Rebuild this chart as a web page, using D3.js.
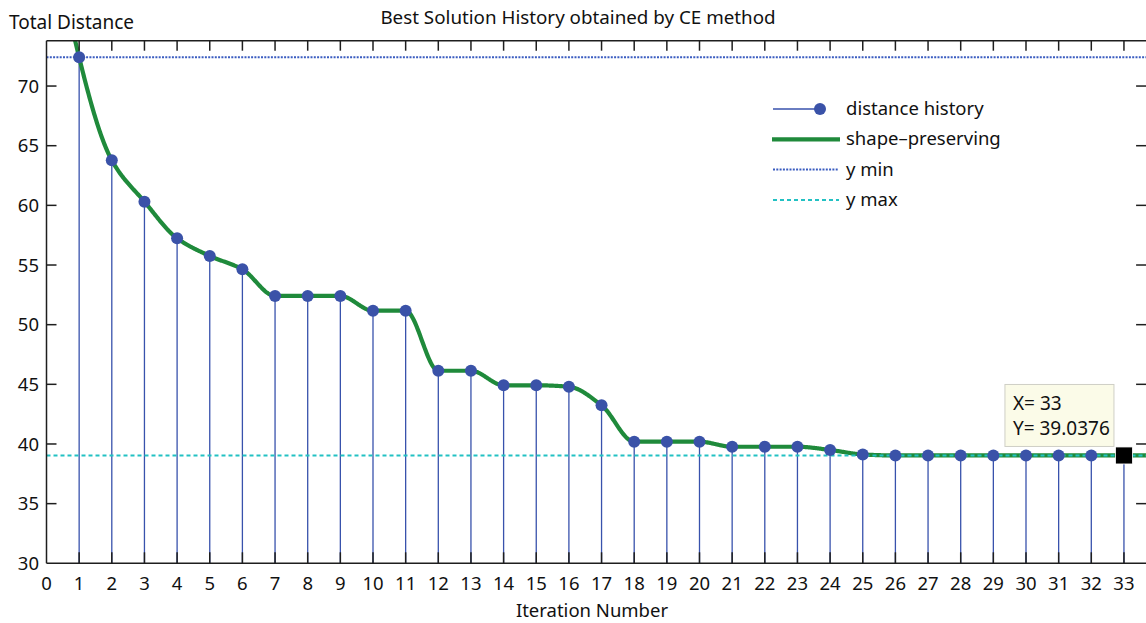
<!DOCTYPE html>
<html>
<head>
<meta charset="utf-8">
<script src="https://cdn.jsdelivr.net/npm/d3@7"></script>
<style>
  body { margin: 0; background: #fff; }
  svg { display: block; font-family: "Noto Sans", sans-serif; }
</style>
</head>
<body>
<svg id="chart" width="1146" height="623"></svg>
<script>
const iterations = d3.range(1, 34)
const distances = [72.41, 63.78, 60.31, 57.24, 55.76, 54.64, 52.41, 52.41, 52.41, 51.17,
  51.17, 46.14, 46.14, 44.92, 44.92, 44.80, 43.24, 40.19, 40.19, 40.19,
  39.77, 39.77, 39.77, 39.50, 39.12, 39.0376, 39.0376, 39.0376, 39.0376, 39.0376,
  39.0376, 39.0376, 39.0376]
const xTicks = d3.range(0, 34)
const yTicks = [30, 35, 40, 45, 50, 55, 60, 65, 70]
const legendLabels = ['distance history', 'shape\u2013preserving', 'y min', 'y max']

const svg = d3.select('#chart')
const xMaxDomain = 33.77
const x = d3.scaleLinear().domain([0, xMaxDomain]).range([46.5, 46.5 + xMaxDomain * 32.65])
const y = d3.scaleLinear().domain([30, 73.8]).range([563.3, 40.7])

const data = iterations.map((it, i) => ({x: it, y: distances[i]}))
const yMin = d3.max(distances)   // labelled "y min" in the legend, drawn at the top value
const yMax = d3.min(distances)

// pchip (shape-preserving) fit, as matlab basic fitting draws it
const pchip = (xs, ys) => {
  const n = xs.length
  const h = [], del = []
  for (let k = 0; k < n - 1; k++) {
    h.push(xs[k+1] - xs[k])
    del.push((ys[k+1] - ys[k]) / h[k])
  }
  const d = new Array(n).fill(0)
  for (let k = 1; k < n - 1; k++) {
    if (del[k-1] * del[k] > 0) {
      const w1 = 2*h[k] + h[k-1], w2 = h[k] + 2*h[k-1]
      d[k] = (w1 + w2) / (w1/del[k-1] + w2/del[k])
    }
  }
  const endSlope = (h0, h1, d0, d1) => {
    let s = ((2*h0 + h1)*d0 - h0*d1) / (h0 + h1)
    if (Math.sign(s) !== Math.sign(d0)) s = 0
    else if (Math.sign(d0) !== Math.sign(d1) && Math.abs(s) > Math.abs(3*d0)) s = 3*d0
    return s
  }
  d[0] = endSlope(h[0], h[1], del[0], del[1])
  d[n-1] = endSlope(h[n-2], h[n-3], del[n-2], del[n-3])
  return t => {
    let k = d3.bisectRight(xs, t) - 1
    k = Math.max(0, Math.min(n - 2, k))
    const s = t - xs[k], hk = h[k]
    const c = (3*del[k] - 2*d[k] - d[k+1]) / hk
    const b = (d[k] - 2*del[k] + d[k+1]) / (hk*hk)
    return ys[k] + s*(d[k] + s*(c + s*b))
  }
}
const fit = pchip(iterations, distances)
const fitPts = d3.range(0, xMaxDomain, 0.02).map(t => ({x: t, y: fit(t)}))

svg.append('defs').append('clipPath').attr('id', 'plotclip')
  .append('rect')
    .attr('x', x(0)).attr('y', y(73.8))
    .attr('width', x(xMaxDomain) - x(0)).attr('height', y(30) - y(73.8))

const plot = svg.append('g').attr('clip-path', 'url(#plotclip)')

// stems
plot.selectAll('.stem').data(data).enter().append('line')
  .attr('class', 'stem')
  .attr('x1', d => x(d.x)).attr('x2', d => x(d.x))
  .attr('y1', y(30)).attr('y2', d => y(d.y))
  .attr('stroke', '#3852ac').attr('stroke-width', 1.3)

// shape-preserving fit
plot.append('path')
  .datum(fitPts)
  .attr('fill', 'none')
  .attr('stroke', '#1f8a3b')
  .attr('stroke-width', 4.2)
  .attr('stroke-linejoin', 'round')
  .attr('d', d3.line().x(d => x(d.x)).y(d => y(d.y)))

// y min / y max lines
plot.append('line')
  .attr('x1', x(0)).attr('x2', x(xMaxDomain))
  .attr('y1', y(yMin)).attr('y2', y(yMin))
  .attr('stroke', '#3a5cc0').attr('stroke-width', 2)
  .attr('stroke-dasharray', '2,1.3')
plot.append('line')
  .attr('x1', x(0)).attr('x2', x(xMaxDomain))
  .attr('y1', y(yMax)).attr('y2', y(yMax))
  .attr('stroke', '#22c1c3').attr('stroke-width', 2)
  .attr('stroke-dasharray', '4,3')

// markers
plot.selectAll('.dot').data(data.slice(0, -1)).enter().append('circle')
  .attr('class', 'dot')
  .attr('cx', d => x(d.x)).attr('cy', d => y(d.y))
  .attr('r', 6)
  .attr('fill', '#3a52a8')

// axes frame
const axisG = svg.append('g').attr('stroke', '#1e1e1e').attr('stroke-width', 1.5)
axisG.append('line').attr('x1', x(0)).attr('x2', x(xMaxDomain)).attr('y1', y(30)).attr('y2', y(30))
axisG.append('line').attr('x1', x(0)).attr('x2', x(xMaxDomain)).attr('y1', y(73.8)).attr('y2', y(73.8))
axisG.append('line').attr('x1', x(0)).attr('x2', x(0)).attr('y1', y(30)).attr('y2', y(73.8))
axisG.append('line').attr('x1', x(xMaxDomain)).attr('x2', x(xMaxDomain)).attr('y1', y(30)).attr('y2', y(73.8))

// ticks (inward, mirrored)
xTicks.slice(1).forEach(t => {
  axisG.append('line').attr('x1', x(t)).attr('x2', x(t)).attr('y1', y(30)).attr('y2', y(30) - 11)
  axisG.append('line').attr('x1', x(t)).attr('x2', x(t)).attr('y1', y(73.8)).attr('y2', y(73.8) + 10)
})
yTicks.slice(1).forEach(t => {
  axisG.append('line').attr('x1', x(0)).attr('x2', x(0) + 10).attr('y1', y(t)).attr('y2', y(t))
  axisG.append('line').attr('x1', x(xMaxDomain)).attr('x2', x(xMaxDomain) - 13).attr('y1', y(t)).attr('y2', y(t))
})

// tick labels
svg.append('g').selectAll('text').data(xTicks).enter().append('text')
  .attr('x', d => x(d)).attr('y', 590)
  .attr('text-anchor', 'middle')
  .attr('font-size', 18.5).attr('fill', '#111')
  .text(d => d)
svg.append('g').selectAll('text').data(yTicks).enter().append('text')
  .attr('x', 39).attr('y', d => y(d)).attr('dy', '0.36em')
  .attr('text-anchor', 'end')
  .attr('font-size', 18.5).attr('fill', '#111')
  .text(d => d)

// titles
svg.append('text').attr('x', 578).attr('y', 23.5).attr('text-anchor', 'middle')
  .attr('font-size', 18.8).attr('fill', '#111')
  .text('Best Solution History obtained by CE method')
svg.append('text').attr('x', 9).attr('y', 28.5)
  .attr('font-size', 19).attr('fill', '#111')
  .text('Total Distance')
svg.append('text').attr('x', 592).attr('y', 616.5).attr('text-anchor', 'middle')
  .attr('font-size', 18.5).attr('fill', '#111')
  .text('Iteration Number')

// legend
const legend = svg.append('g').attr('transform', 'translate(773,109)')
const rowH = 30.3
legendLabels.forEach((lab, i) => {
  const g = legend.append('g').attr('transform', `translate(0,${i * rowH})`)
  if (i === 0) {
    g.append('line').attr('x1', 0).attr('x2', 47).attr('stroke', '#3852ac').attr('stroke-width', 1.3)
    g.append('circle').attr('cx', 47).attr('r', 6).attr('fill', '#3a52a8')
  } else if (i === 1) {
    g.append('line').attr('x1', -1).attr('x2', 67).attr('stroke', '#1f8a3b').attr('stroke-width', 4.2)
  } else if (i === 2) {
    g.append('line').attr('x1', 0).attr('x2', 66).attr('stroke', '#3a5cc0').attr('stroke-width', 2)
      .attr('stroke-dasharray', '2,1.3')
  } else {
    g.append('line').attr('x1', 0).attr('x2', 66).attr('stroke', '#22c1c3').attr('stroke-width', 2)
      .attr('stroke-dasharray', '4,3')
  }
  g.append('text').attr('x', 73).attr('y', 0).attr('dy', '0.33em')
    .attr('font-size', 18.5).attr('fill', '#111')
    .text(lab)
})

// data cursor on the last point
const last = data[data.length - 1]
const cx = x(last.x), cy = y(last.y)
const tip = svg.append('g')
tip.append('rect')
  .attr('x', cx - 119).attr('y', cy - 71)
  .attr('width', 109).attr('height', 62)
  .attr('fill', '#fbfbe8').attr('stroke', '#cfcfc6').attr('stroke-width', 1)
tip.append('text').attr('x', cx - 111).attr('y', cy - 45)
  .attr('font-size', 19).attr('fill', '#111')
  .text(`X= ${last.x}`)
tip.append('text').attr('x', cx - 111).attr('y', cy - 20)
  .attr('font-size', 19).attr('fill', '#111')
  .text(`Y= ${last.y}`)
svg.append('rect')
  .attr('x', cx - 8.5).attr('y', cy - 8.5)
  .attr('width', 17).attr('height', 17)
  .attr('fill', '#000').attr('stroke', '#fff').attr('stroke-width', 0.8)
</script>
</body>
</html>
